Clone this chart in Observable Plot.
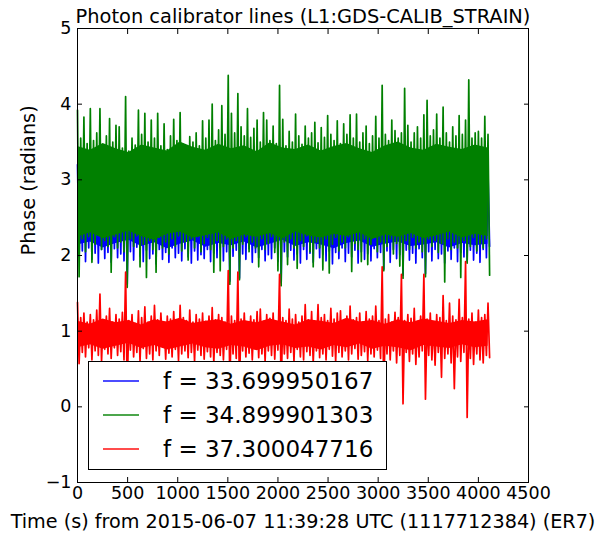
<!DOCTYPE html>
<html><head><meta charset="utf-8">
<script src="https://cdn.jsdelivr.net/npm/d3@7"></script>
<script src="https://cdn.jsdelivr.net/npm/@observablehq/plot@0.6"></script>
<style>html,body{margin:0;padding:0;background:#fff}svg{display:block}</style>
</head><body><div id="chart"></div>
<script>
const titleText = "Photon calibrator lines (L1:GDS-CALIB_STRAIN)";
const xLabelText = "Time (s) from 2015-06-07 11:39:28 UTC (1117712384) (ER7)";
const yLabelText = "Phase (radians)";
const labels = ["f = 33.699950167", "f = 34.899901303", "f = 37.300047716"];
const colors = ["#0000ff", "#008000", "#ff0000"];
const xTicks = [0, 500, 1000, 1500, 2000, 2500, 3000, 3500, 4000, 4500];
const yTicks = [-1, 0, 1, 2, 3, 4, 5];
const stepSeconds = 32;      // spike samples: a peak value then a trough value per step
const coreStepSeconds = 128; // edges of the solid (dense) band of each trace

const blueHi = [3.20,3.05,3.28,3.12,3.24,3.02,3.18,3.30,3.08,3.22,
3.14,3.26,3.04,3.19,3.10,3.28,3.06,3.22,3.15,3.02,
3.25,3.11,3.20,3.07,3.29,3.13,3.18,3.03,3.24,3.16,
3.08,3.27,3.12,3.21,3.05,3.19,3.26,3.09,3.17,3.02,
3.23,3.14,3.28,3.06,3.20,3.11,3.25,3.04,3.18,3.13,
3.27,3.08,3.22,3.15,3.03,3.26,3.12,3.19,3.07,3.24,
3.10,3.28,3.05,3.21,3.16,3.02,3.25,3.13,3.18,3.09,
3.27,3.06,3.22,3.14,3.20,3.04,3.26,3.11,3.17,3.08,
3.24,3.15,3.03,3.29,3.12,3.19,3.07,3.23,3.10,3.26,
3.05,3.18,3.14,3.28,3.09,3.21,3.02,3.25,3.13,3.17,
3.08,3.27,3.11,3.20,3.06,3.24,3.15,3.03,3.22,3.12,
3.28,3.07,3.19,3.14,3.25,3.04,3.21,3.10,3.27,3.16,
3.05,3.23,3.12,3.18,3.08,3.26,3.14,3.20,3.10];
const blueLo = [1.98,2.06,1.92,2.10,1.95,2.03,1.90,2.08,1.96,2.04,
1.91,2.09,1.97,2.02,1.93,1.62,2.05,1.94,2.11,1.99,
1.92,2.07,1.96,2.02,1.89,2.08,1.95,2.04,1.91,2.10,
1.97,2.03,1.93,2.09,1.98,1.90,2.06,1.94,2.01,1.96,
2.08,1.92,2.03,1.97,2.10,1.93,2.05,1.66,1.99,2.07,
1.70,2.02,1.95,2.09,1.91,2.04,1.97,2.08,1.93,2.01,
1.96,2.10,1.92,1.64,2.05,1.98,2.07,1.94,2.02,1.90,
2.08,1.95,2.03,1.91,2.09,1.97,2.01,1.93,2.06,1.89,
2.04,1.96,2.10,1.92,2.03,1.98,2.07,1.90,2.05,1.95,
2.02,1.93,2.09,1.97,2.04,1.82,2.06,1.91,2.08,1.96,
2.01,1.74,2.07,1.94,2.03,1.90,2.09,1.97,1.76,2.05,
1.93,2.08,1.96,2.02,1.90,2.06,1.95,2.10,1.92,2.04,
1.98,1.92,2.07,1.94,2.03,1.91,2.08,1.97,2.12];
const blueCoreTop = [3.10,3.12,3.08,3.11,3.09,3.13,3.10,3.08,3.12,3.09,3.11,3.10,3.13,3.08,3.10,3.12,3.11,
3.09,3.12,3.10,3.08,3.11,3.13,3.09,3.10,3.12,3.08,3.11,3.10,3.09,3.12,3.10,3.11];
const blueCoreBottom = [2.14,2.18,2.10,2.16,2.20,2.12,2.17,2.09,2.15,2.19,2.11,2.16,2.13,2.18,2.10,2.15,2.20,
2.12,2.17,2.14,2.09,2.16,2.19,2.11,2.15,2.18,2.12,2.14,2.17,2.10,2.16,2.13,2.15];

const greenHi = [3.92,3.55,3.83,3.48,3.94,3.52,3.62,3.94,3.45,3.58,
3.81,3.50,3.72,3.70,3.42,4.10,3.38,3.55,3.46,3.92,
3.60,3.88,3.50,3.79,3.55,3.88,3.45,3.74,3.40,3.58,
3.80,3.52,3.89,3.47,3.42,3.57,3.50,3.62,3.45,3.78,
3.55,3.79,4.00,3.52,3.66,3.98,3.60,4.38,3.88,3.62,
4.14,3.70,3.58,3.94,3.56,3.68,3.79,3.50,3.89,3.79,
3.52,3.71,3.48,4.25,3.80,3.45,3.64,3.50,3.87,3.58,
3.47,3.71,3.55,3.62,3.76,3.49,3.69,3.56,3.85,3.60,
3.52,3.78,3.48,3.74,3.60,3.86,3.55,3.87,3.50,3.62,
3.71,3.48,3.58,3.84,3.55,4.25,3.60,3.52,3.79,3.65,
3.55,3.62,4.21,3.72,3.50,3.62,3.70,3.55,3.86,4.05,
3.58,3.66,3.87,3.55,3.96,3.62,3.50,3.70,3.58,3.85,
3.60,3.79,4.32,3.55,3.62,3.64,3.55,3.84,3.60];
const greenLo = [1.72,2.22,2.05,2.25,1.91,2.15,2.28,2.08,2.20,2.12,
1.78,2.25,2.10,2.18,2.05,1.58,2.22,2.12,2.26,1.85,
2.15,1.71,2.20,2.08,1.78,2.24,2.10,2.18,2.02,2.22,
2.12,2.26,2.06,2.18,1.94,2.22,2.10,2.25,2.05,2.16,
2.24,2.08,1.78,2.20,1.80,2.12,2.22,1.62,2.10,2.20,
1.68,2.15,2.25,2.05,2.18,2.10,1.85,2.22,2.08,2.16,
2.25,2.04,1.80,1.60,2.18,1.88,2.22,2.10,1.83,2.20,
2.12,2.26,2.05,1.85,2.18,2.10,1.81,2.22,1.77,2.15,
2.24,2.06,2.18,2.10,2.25,1.79,2.16,2.08,1.92,2.22,
1.88,2.15,2.25,2.05,2.18,1.80,2.12,2.22,2.02,2.16,
1.86,1.70,2.20,2.08,2.24,2.10,2.18,2.05,1.72,2.22,
2.12,2.20,2.04,2.16,1.65,2.22,2.08,2.18,2.10,1.71,
2.20,1.90,2.12,2.24,2.06,2.16,2.10,2.22,1.74];
const greenCoreTop = [3.44,3.39,3.48,3.41,3.36,3.46,3.42,3.38,3.50,3.43,3.39,3.47,3.41,3.45,3.37,3.49,3.42,
3.40,3.46,3.38,3.44,3.48,3.41,3.36,3.45,3.50,3.42,3.39,3.47,3.43,3.40,3.46,3.42];
const greenCoreBottom = [2.24,2.30,2.22,2.27,2.32,2.25,2.20,2.28,2.31,2.23,2.26,2.30,2.21,2.27,2.24,2.29,2.22,
2.31,2.26,2.23,2.28,2.25,2.30,2.21,2.27,2.24,2.29,2.22,2.26,2.31,2.23,2.28,2.25];

const redHi = [1.38,1.18,1.24,1.12,1.22,1.15,1.28,1.49,1.14,1.20,
1.30,1.12,1.22,1.16,1.25,1.78,1.14,1.22,1.10,1.27,
1.18,1.32,1.12,1.20,1.34,1.15,1.24,1.11,1.20,1.16,
1.26,1.12,1.34,1.18,1.14,1.28,1.12,1.22,1.16,1.24,
1.13,1.20,1.31,1.15,1.22,1.18,1.12,1.80,1.20,1.14,
1.78,1.16,1.24,1.12,1.20,1.15,1.26,1.29,1.13,1.22,
1.17,1.24,1.12,1.75,1.18,1.14,1.29,1.16,1.22,1.12,
1.20,1.35,1.15,1.26,1.12,1.35,1.18,1.22,1.14,1.30,
1.16,1.24,1.27,1.12,1.20,1.33,1.15,1.18,1.24,1.12,
1.26,1.16,1.20,1.33,1.14,1.85,1.16,1.22,1.12,1.25,
1.18,1.75,1.14,1.22,1.17,1.30,1.13,1.20,1.75,1.16,
1.24,1.12,1.22,1.18,1.47,1.14,1.37,1.20,1.15,1.42,
1.18,1.92,1.16,1.24,1.12,1.28,1.18,1.22,1.37];
const redLo = [0.57,0.72,0.66,0.78,0.62,0.74,0.68,0.60,0.76,0.70,
0.64,0.78,0.68,0.73,0.62,0.20,0.75,0.66,0.72,0.60,
0.77,0.64,0.70,0.62,0.74,0.68,0.79,0.63,0.71,0.66,
0.76,0.61,0.70,0.74,0.65,0.72,0.60,0.75,0.68,0.63,
0.73,0.66,0.58,0.72,0.68,0.62,0.76,0.30,0.70,0.64,
0.25,0.74,0.66,0.71,0.62,0.77,0.65,0.70,0.60,0.74,
0.68,0.63,0.75,0.20,0.70,0.64,0.72,0.60,0.76,0.66,
0.62,0.73,0.68,0.58,0.74,0.65,0.70,0.62,0.76,0.67,
0.60,0.72,0.66,0.74,0.62,0.70,0.77,0.63,0.68,0.73,
0.61,0.70,0.66,0.75,0.64,0.15,0.70,0.62,0.74,0.58,
0.68,0.04,0.72,0.60,0.70,0.56,0.66,0.74,0.10,0.68,
0.62,0.55,0.72,0.39,0.64,0.70,0.58,0.24,0.66,0.60,
0.72,-0.14,0.64,0.56,0.70,0.62,0.58,0.68,0.65];
const redCoreTop = [1.13,1.09,1.16,1.11,1.14,1.08,1.15,1.12,1.17,1.10,1.13,1.15,1.09,1.14,1.11,1.16,1.12,
1.08,1.15,1.13,1.10,1.17,1.12,1.14,1.09,1.15,1.11,1.16,1.13,1.10,1.14,1.12,1.15];
const redCoreBottom = [0.78,0.82,0.76,0.80,0.84,0.77,0.81,0.75,0.79,0.83,0.78,0.76,0.81,0.79,0.74,0.80,0.82,
0.77,0.79,0.75,0.81,0.78,0.83,0.76,0.80,0.78,0.74,0.81,0.79,0.77,0.82,0.78,0.80];

const series = [
  {label: labels[0], color: colors[0], hi: blueHi, lo: blueLo, coreTop: blueCoreTop, coreBottom: blueCoreBottom},
  {label: labels[1], color: colors[1], hi: greenHi, lo: greenLo, coreTop: greenCoreTop, coreBottom: greenCoreBottom},
  {label: labels[2], color: colors[2], hi: redHi, lo: redLo, coreTop: redCoreTop, coreBottom: redCoreBottom}
];

function rowsOf(hi, lo) {
  const rows = [];
  hi.forEach((h, i) => {
    rows.push({t: i * stepSeconds, v: h});
    rows.push({t: i * stepSeconds + stepSeconds / 2, v: lo[i]});
  });
  return rows;
}
function coreOf(top, bottom) {
  return top.map((v, i) => ({t: i * coreStepSeconds, top: v, bottom: bottom[i]}));
}

const fmtY = d => d < 0 ? "\u2212" + (-d) : String(d);
const font = "'DejaVu Sans', sans-serif";

const chart = Plot.plot({
  width: 610,
  height: 536,
  marginLeft: 77,
  marginRight: 82,
  marginTop: 28,
  marginBottom: 54,
  x: {domain: [0, 4500]},
  y: {domain: [-1, 5]},
  style: {fontFamily: font, fontSize: "17.5px", background: "white", color: "black", overflow: "visible"},
  marks: [
    ...series.flatMap(s => [
      Plot.areaY(coreOf(s.coreTop, s.coreBottom), {x: "t", y1: "bottom", y2: "top", fill: s.color}),
      Plot.line(rowsOf(s.hi, s.lo), {x: "t", y: "v", stroke: s.color, strokeWidth: 1.7})
    ]),
    Plot.frame({stroke: "black", strokeWidth: 1}),
    Plot.axisX({anchor: "bottom", ticks: xTicks, tickSize: -5, tickPadding: 9, tickFormat: d => String(d), label: null, fontSize: 17.5}),
    Plot.axisX({anchor: "top", ticks: xTicks, tickSize: -5, tickFormat: () => "", label: null}),
    Plot.axisY({anchor: "left", ticks: yTicks, tickSize: -5, tickPadding: 11, tickFormat: fmtY, label: null, fontSize: 17.5}),
    Plot.axisY({anchor: "right", ticks: yTicks, tickSize: -5, tickFormat: () => "", label: null}),
    Plot.text([titleText], {text: d => d, frameAnchor: "top", dy: -6, lineAnchor: "bottom", fontSize: 19.4}),
    Plot.text([xLabelText], {text: d => d, frameAnchor: "bottom", dy: 39, lineAnchor: "middle", fontSize: 19.2}),
    Plot.text([yLabelText], {text: d => d, frameAnchor: "left", dx: -49, rotate: -90, lineAnchor: "middle", fontSize: 19.3})
  ]
});

// legend box (matplotlib style, drawn over the data)
const svg = d3.select(chart);
const lg = svg.append("g").attr("font-family", font).attr("font-size", 23).attr("text-anchor", "start");
lg.append("rect").attr("x", 88.5).attr("y", 361.5).attr("width", 298).attr("height", 108)
  .attr("fill", "white").attr("stroke", "black").attr("stroke-width", 1);
series.forEach((s, i) => {
  const cy = 381 + i * 34;
  lg.append("line").attr("x1", 103).attr("x2", 139).attr("y1", cy).attr("y2", cy)
    .attr("stroke", s.color).attr("stroke-width", 2).attr("stroke-opacity", 0.7);
  lg.append("text").attr("x", 163).attr("y", cy).attr("dy", "0.36em").attr("fill", "black")
    .attr("text-anchor", "start").text(s.label);
});

document.getElementById("chart").appendChild(chart);
</script>
</body></html>
